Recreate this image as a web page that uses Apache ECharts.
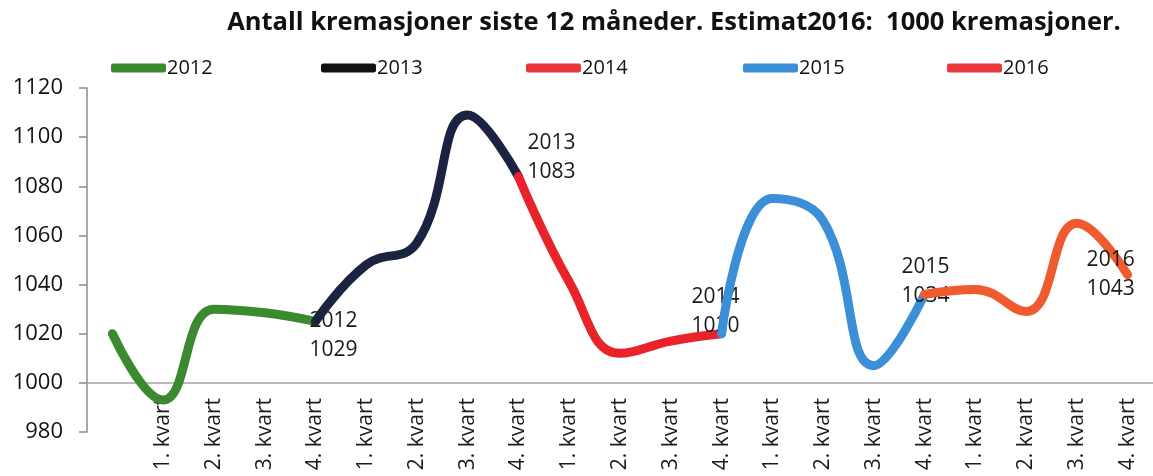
<!DOCTYPE html>
<html>
<head>
<meta charset="utf-8">
<script src="https://cdn.jsdelivr.net/npm/echarts@6/dist/echarts.min.js"></script>
<style>
html,body{margin:0;padding:0;background:#fff;}
#chart{width:1153px;height:476px;}
</style>
</head>
<body>
<div id="chart"></div>
<script>
// ---- data ----
const categories = ['', '1. kvart', '2. kvart', '3. kvart', '4. kvart',
  '1. kvart', '2. kvart', '3. kvart', '4. kvart',
  '1. kvart', '2. kvart', '3. kvart', '4. kvart',
  '1. kvart', '2. kvart', '3. kvart', '4. kvart',
  '1. kvart', '2. kvart', '3. kvart', '4. kvart'];
const values = [1020, 993, 1030, 1028.5, 1025,
  1048, 1057, 1109, 1084,
  1041, 1012, 1017, 1020,
  1075, 1066, 1007, 1036,
  1038, 1029, 1065, 1044];
const years = ['2012', '2013', '2014', '2015', '2016'];
const yearTotals = [1029, 1083, 1020, 1034, 1043];
const yTicks = [980, 1000, 1020, 1040, 1060, 1080, 1100, 1120];
const titleText = 'Antall kremasjoner siste 12 måneder. Estimat2016:  1000 kremasjoner.';

// ---- styles ----
const lineColors = ['#3b8a2f', '#1b2340', '#e8232a', '#3a8fd6', '#f05a2f'];
const legendColors = ['#3b8a2f', '#111111', '#e8363a', '#3a8fd6', '#e8383b'];
const legendLeft = [110, 320, 525, 742, 946];
const labelOffsets = [[-6, 14], [9, -19], [-30, -22], [-23, -13], [-41, 0]];
const FONT = '"Open Sans", "Noto Sans", sans-serif';

const series = years.map((y, k) => {
  const start = k * 4, end = k * 4 + 4;
  const data = values.map((v, i) => {
    if (i < start || i > end) return null;
    if (i === end) {
      return {
        value: v,
        symbol: 'circle',
        symbolSize: 2,
        label: {
          show: true,
          position: 'inside',
          align: 'left',
          verticalAlign: 'middle',
          offset: labelOffsets[k],
          formatter: y + '\n' + yearTotals[k],
          fontFamily: FONT,
          fontSize: 21,
          lineHeight: 29,
          color: '#1a1a1a'
        }
      };
    }
    return v;
  });
  const s = {
    name: y,
    type: 'line',
    data: data,
    smooth: 0.45,
    symbol: 'none',
    connectNulls: false,
    lineStyle: { color: lineColors[k], width: 9, cap: 'round', join: 'round' },
    itemStyle: { color: lineColors[k] },
    emphasis: { disabled: true },
    z: 3 + k
  };
  if (k === 0) {
    s.markLine = {
      silent: true,
      symbol: 'none',
      label: { show: false },
      lineStyle: { color: '#a3a3a3', width: 1.5, type: 'solid' },
      data: [{ yAxis: 1000 }],
      z: 1
    };
  }
  return s;
});

const legends = years.map((y, k) => ({
  left: legendLeft[k] - 4,
  top: 53,
  icon: 'roundRect',
  itemWidth: 55,
  itemHeight: 9,
  itemGap: 0,
  textStyle: { fontFamily: FONT, fontSize: 20, color: '#111', padding: [0, 0, 0, -4] },
  data: [{ name: y, itemStyle: { color: legendColors[k] } }],
  selectedMode: false
}));

const chart = echarts.init(document.getElementById('chart'), null, { renderer: 'canvas' });
chart.setOption({
  backgroundColor: '#ffffff',
  animation: false,
  title: {
    text: titleText,
    left: 669,
    textAlign: 'center',
    top: 5,
    textStyle: { fontFamily: FONT, fontSize: 25.5, fontWeight: 'bold', color: '#111' }
  },
  legend: legends,
  grid: { left: 87, right: -13, top: 88, bottom: 44, containLabel: false },
  xAxis: {
    type: 'category',
    data: categories,
    boundaryGap: true,
    axisLine: { show: false },
    axisTick: { show: false },
    axisLabel: {
      interval: 0,
      rotate: 90,
      margin: -34,
      fontFamily: FONT,
      fontSize: 21,
      color: '#1a1a1a'
    }
  },
  yAxis: {
    type: 'value',
    min: yTicks[0],
    max: yTicks[yTicks.length - 1],
    interval: yTicks[1] - yTicks[0],
    axisLine: { show: true, lineStyle: { color: '#8c8c8c', width: 1.5 } },
    axisTick: { show: true, inside: false, length: 8, lineStyle: { color: '#8c8c8c', width: 1.5 } },
    splitLine: { show: false },
    axisLabel: { margin: 24, fontFamily: FONT, fontSize: 22, color: '#111', formatter: (v) => String(v) }
  },
  series: series
});
</script>
</body>
</html>
